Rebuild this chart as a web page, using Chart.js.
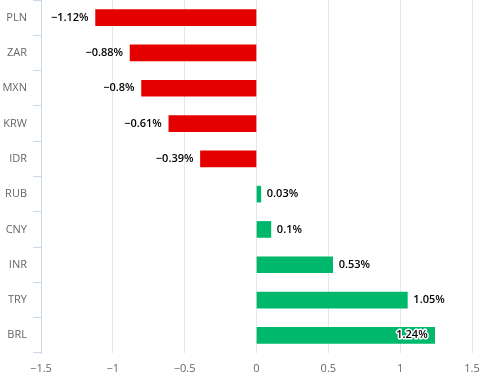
<!DOCTYPE html>
<html>
<head>
<meta charset="utf-8">
<script src="https://cdn.jsdelivr.net/npm/chart.js@4/dist/chart.umd.min.js"></script>
<style>
  html, body { margin: 0; padding: 0; background: #ffffff; }
  #wrap { width: 483px; height: 386px; }
</style>
</head>
<body>
<div id="wrap"><canvas id="fxChart" width="483" height="386"></canvas></div>
<script>
// Currency performance (%)
const currencies = ['PLN', 'ZAR', 'MXN', 'KRW', 'IDR', 'RUB', 'CNY', 'INR', 'TRY', 'BRL'];
const changes = [-1.12, -0.88, -0.8, -0.61, -0.39, 0.03, 0.1, 0.53, 1.05, 1.24];
const xTicks = [-1.5, -1, -0.5, 0, 0.5, 1, 1.5];

const fontFamily = '"Open Sans", "DejaVu Sans", sans-serif';

// minus sign instead of hyphen, like the original
const fmt = v => String(v).replace('-', '\u2212');

// value labels next to each bar
const barLabels = {
    id: 'barLabels',
    afterDatasetsDraw(chart) {
        const ctx = chart.ctx;
        const meta = chart.getDatasetMeta(0);
        const area = chart.chartArea;
        ctx.save();
        ctx.font = '600 11px ' + fontFamily;
        ctx.textBaseline = 'middle';
        meta.data.forEach((bar, i) => {
            const v = changes[i];
            const text = fmt(v) + '%';
            const w = ctx.measureText(text).width;
            if (v < 0) {
                ctx.textAlign = 'right';
                ctx.fillStyle = '#000000';
                ctx.fillText(text, bar.x - 7, bar.y);
            } else if (bar.x + 6 + w > area.right - 20) {
                // does not fit outside: draw inside with a white outline
                ctx.textAlign = 'right';
                ctx.lineWidth = 3;
                ctx.lineJoin = 'round';
                ctx.strokeStyle = '#ffffff';
                ctx.strokeText(text, bar.x - 7, bar.y);
                ctx.fillStyle = '#000000';
                ctx.fillText(text, bar.x - 7, bar.y);
            } else {
                ctx.textAlign = 'left';
                ctx.fillStyle = '#000000';
                ctx.fillText(text, bar.x + 6, bar.y);
            }
        });
        ctx.restore();
    }
};

new Chart(document.getElementById('fxChart'), {
    type: 'bar',
    data: {
        labels: currencies,
        datasets: [{
            data: changes,
            backgroundColor: changes.map(v => v < 0 ? '#e50000' : '#00b86b'),
            borderWidth: 0,
            barThickness: 16
        }]
    },
    options: {
        indexAxis: 'y',
        responsive: false,
        animation: false,
        layout: { padding: { top: 0, right: 11, bottom: 0, left: 0 } },
        plugins: {
            legend: { display: false },
            tooltip: { enabled: false }
        },
        scales: {
            x: {
                min: -1.5,
                max: 1.5,
                afterBuildTicks: scale => { scale.ticks = xTicks.map(v => ({ value: v })); },
                afterFit: scale => {
                    scale.height = 33;
                    scale.paddingLeft = 0;
                    scale.paddingRight = 0;
                },
                grid: {
                    color: '#e6e6e6',
                    drawTicks: false
                },
                border: { display: false },
                ticks: {
                    padding: 9,
                    color: '#666666',
                    font: { family: fontFamily, size: 11 },
                    callback: v => fmt(v)
                }
            },
            y: {
                afterFit: scale => {
                    scale.width = 41;
                    scale.paddingTop = 0;
                    scale.paddingBottom = 0;
                },
                grid: {
                    offset: true,
                    drawOnChartArea: false,
                    tickLength: 8,
                    color: '#ccd6eb'
                },
                border: { color: '#ccd6eb', width: 1 },
                ticks: {
                    padding: 6,
                    color: '#666666',
                    font: { family: fontFamily, size: 11 }
                }
            }
        }
    },
    plugins: [barLabels]
});
</script>
</body>
</html>
